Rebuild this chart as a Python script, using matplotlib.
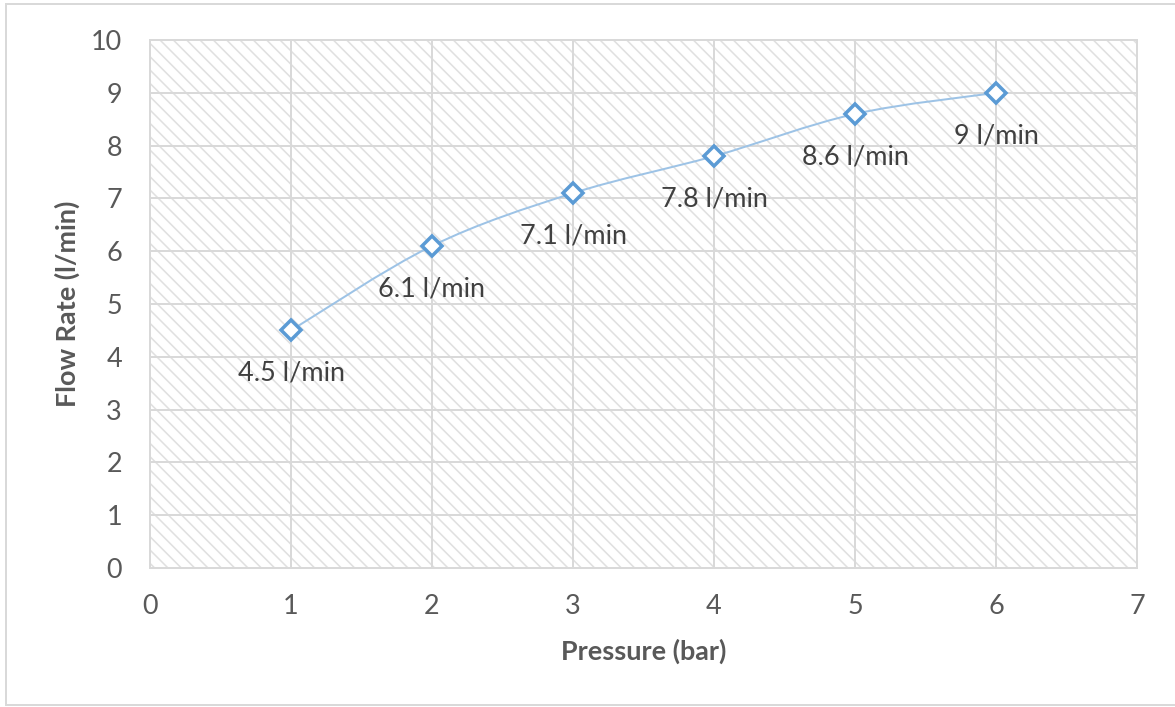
import matplotlib.pyplot as plt
from matplotlib.path import Path
from matplotlib.patches import PathPatch, Rectangle
from matplotlib.lines import Line2D

pressure = [1, 2, 3, 4, 5, 6]
flow = [4.5, 6.1, 7.1, 7.8, 8.6, 9.0]
point_labels = ['4.5 l/min', '6.1 l/min', '7.1 l/min', '7.8 l/min', '8.6 l/min', '9 l/min']
x_ticks = [0, 1, 2, 3, 4, 5, 6, 7]
y_ticks = [0, 1, 2, 3, 4, 5, 6, 7, 8, 9, 10]

W, H, DPI = 1175, 707, 80
PX = 72 / DPI  # points per pixel

plt.rcParams['font.family'] = ['Lato', 'DejaVu Sans']
plt.rcParams['hatch.linewidth'] = 1.4
FS = 27 * PX
GRID = '#d9d9d9'
TXT = '#595959'

fig = plt.figure(figsize=(W / DPI, H / DPI), dpi=DPI)
ax = fig.add_axes([150 / W, 1 - 568 / H, (1137 - 150) / W, (568 - 40) / H])

# hatched plot area
ax.add_patch(Rectangle((0, 0), 1, 1, transform=ax.transAxes, facecolor='white',
                       edgecolor='#e0e0e0', linewidth=0, hatch='\\\\', zorder=0))

ax.set_xlim(0, 7)
ax.set_ylim(0, 10)
ax.set_xticks(x_ticks)
ax.set_yticks(y_ticks)
ax.grid(True, color=GRID, linewidth=2 * PX, zorder=1)
ax.set_axisbelow(True)
for s in ax.spines.values():
    s.set_color(GRID)
    s.set_linewidth(2 * PX)
ax.tick_params(length=0, labelsize=FS, labelcolor=TXT)
ax.tick_params(axis='y', pad=28 * PX)
ax.tick_params(axis='x', pad=26 * PX)

ax.set_xlabel('Pressure (bar)', fontsize=FS, fontweight='bold', color=TXT)
ax.set_ylabel('Flow Rate (l/min)', fontsize=FS, fontweight='bold', color=TXT)
ax.xaxis.set_label_coords(0.5, (568 - 651) / 528)
ax.xaxis.label.set_va('center')
ax.yaxis.set_label_coords((67 - 150) / 987, 0.5)
ax.yaxis.label.set_va('center')

# smoothed line (bezier through the points, like Excel's smooth line)
n = len(pressure)
verts = [(pressure[0], flow[0])]
codes = [Path.MOVETO]
for i in range(n - 1):
    p0 = (pressure[max(i - 1, 0)], flow[max(i - 1, 0)])
    p1 = (pressure[i], flow[i])
    p2 = (pressure[i + 1], flow[i + 1])
    p3 = (pressure[min(i + 2, n - 1)], flow[min(i + 2, n - 1)])
    c1 = (p1[0] + (p2[0] - p0[0]) / 6, p1[1] + (p2[1] - p0[1]) / 6)
    c2 = (p2[0] - (p3[0] - p1[0]) / 6, p2[1] - (p3[1] - p1[1]) / 6)
    verts += [c1, c2, p2]
    codes += [Path.CURVE4] * 3
ax.add_patch(PathPatch(Path(verts, codes), facecolor='none', edgecolor='#9dc3e6',
                       linewidth=2 * PX, zorder=3))

ax.plot(pressure, flow, linestyle='none', marker='D', markersize=12.5,
        markerfacecolor='white', markeredgecolor='#5b9bd5', markeredgewidth=3.5 * PX, zorder=4)

for x, y, lbl in zip(pressure, flow, point_labels):
    ax.annotate(lbl, (x, y), xytext=(0, -43 * PX), textcoords='offset points',
                ha='center', va='center', fontsize=FS, color='#404040', zorder=5)

# outer chart border
for xs, ys in [([6 / W, 6 / W], [1 - 4 / H, 1 - 705 / H]),
               ([6 / W, 1], [1 - 4 / H, 1 - 4 / H]),
               ([6 / W, 1], [1 - 705 / H, 1 - 705 / H])]:
    fig.add_artist(Line2D(xs, ys, color=GRID, linewidth=2 * PX))

fig.savefig('out.png', dpi=DPI)
